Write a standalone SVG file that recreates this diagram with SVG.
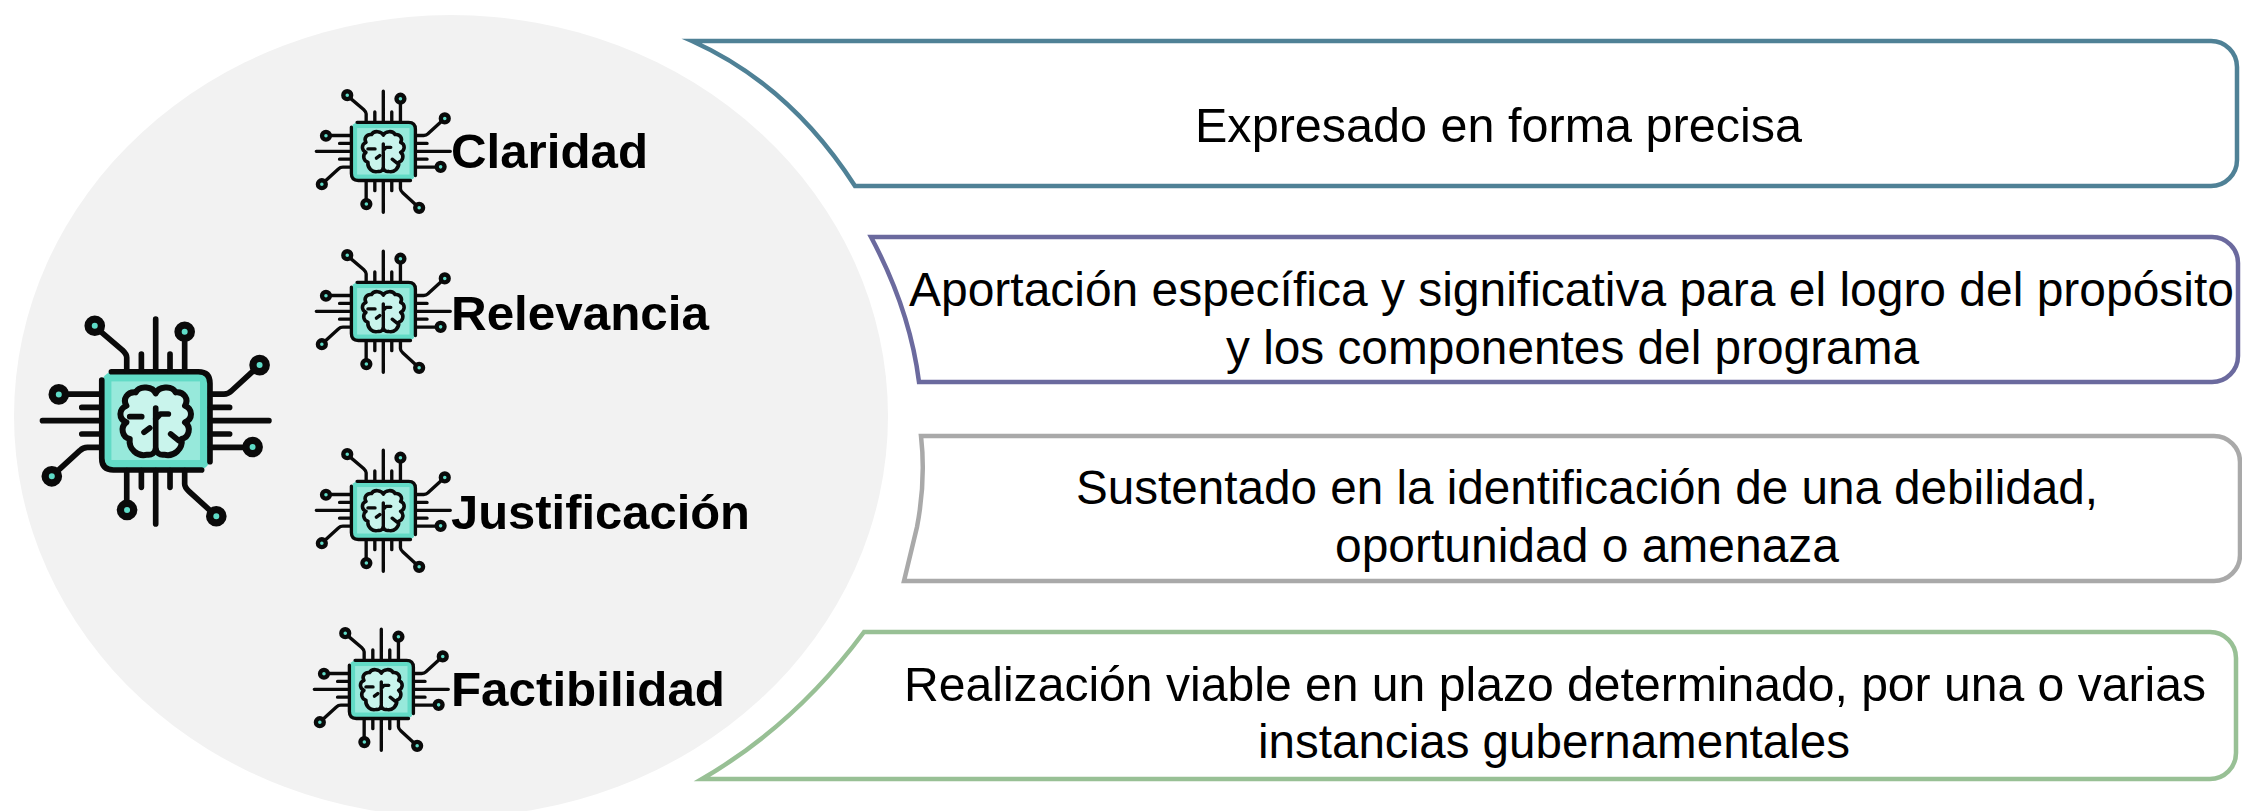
<svg xmlns="http://www.w3.org/2000/svg" width="2242" height="811" viewBox="0 0 2242 811">
<style>
text{font-family:"Liberation Sans",Arial,sans-serif;fill:#000}
.d{font-size:48px}
.l{font-size:49px;font-weight:bold}
.b{fill:#fff;stroke-width:4.5;stroke-linejoin:miter;stroke-miterlimit:12}
.k{fill:none;stroke:#0a0a0a;stroke-width:17;stroke-linecap:round;stroke-linejoin:round}
.n{fill:#5fdcc8;stroke:#0a0a0a;stroke-width:22}
</style>
<defs>
<g id="chip">
<rect x="-162" y="-147" width="325" height="295" rx="35" fill="#62dbc6"/>
<rect x="-133" y="-118" width="266" height="236" fill="#97e9db"/>
<path class="k" d="M-133-147H128Q163-147 163-112V123M138 148H-127Q-162 148-162 113V-122"/>
<path class="k" d="M0-305V-150M-43-200V-150M43-200V-150M87-270V-150M-87-150V-190Q-87-200-100-212L-180-280M165-80H205Q218-80 228-90L310-165M165-40H222M165 40H222M165 0H340M165 80H290M-165-80H-270M-165-40H-222M-165 40H-222M-165 0H-340M-165 80H-205Q-218 80-228 90L-310 165M0 310V150M-43 200V150M43 200V150M-87 150V265M87 150V190Q87 200 100 212L180 285"/>
<circle class="n" cx="-183" cy="-285" r="20"/><circle class="n" cx="87" cy="-267" r="20"/><circle class="n" cx="312" cy="-167" r="20"/><circle class="n" cx="291" cy="79" r="20"/><circle class="n" cx="182" cy="287" r="20"/><circle class="n" cx="-86" cy="268" r="20"/><circle class="n" cx="-312" cy="167" r="20"/><circle class="n" cx="-291" cy="-79" r="20"/>
<path d="M0-82C-8-102-48-108-60-85C-85-88-100-65-88-45C-112-35-112-5-88 5C-108 20-100 50-78 55C-82 85-55 110-25 102C-12 104-2 95 0 85C2 95 12 104 25 102C55 110 82 85 78 55C100 50 108 20 88 5C112-5 112-35 88-45C100-65 85-88 60-85C48-108 8-102 0-82Z" fill="#c9f4ec" stroke="#0a0a0a" stroke-width="18" stroke-linejoin="round"/>
<path class="k" d="M0-38V85M0-5L14-20H38M-78-12H-42M-35 35L-18 22M45 40L70 60"/>
</g>
</defs>
<ellipse id="bg-circle" cx="451" cy="416" rx="437" ry="401" fill="#f2f2f2"/>
<g id="connectors"></g>
<g id="main-icon"><use href="#chip" transform="translate(155.7 420.7) scale(.333)"/></g>
<g id="claridad"><use href="#chip" transform="translate(383.3 151.3) scale(.197)"/><text class="l" x="451" y="168" textLength="197" lengthAdjust="spacingAndGlyphs">Claridad</text></g>
<g id="relevancia"><use href="#chip" transform="translate(383.3 311.3) scale(.197)"/><text class="l" x="451" y="330" textLength="258" lengthAdjust="spacingAndGlyphs">Relevancia</text></g>
<g id="justificacion"><use href="#chip" transform="translate(383.3 510.3) scale(.197)"/><text class="l" x="451" y="529" textLength="299" lengthAdjust="spacingAndGlyphs">Justificación</text></g>
<g id="factibilidad"><use href="#chip" transform="translate(381.3 689.3) scale(.197)"/><text class="l" x="451" y="706" textLength="274" lengthAdjust="spacingAndGlyphs">Factibilidad</text></g>
<g id="box1"><path class="b" stroke="#4f8196" d="M692 41H2211A26 26 0 0 1 2237 67V160A26 26 0 0 1 2211 186H855Q790 85 692 41Z"/><text class="d" x="1195" y="142" textLength="607" lengthAdjust="spacingAndGlyphs">Expresado en forma precisa</text></g>
<g id="box2"><path class="b" stroke="#6b6a9e" d="M871 237H2212A26 26 0 0 1 2238 263V356A26 26 0 0 1 2212 382H919Q910 310 871 237Z"/><text class="d" x="909" y="306" textLength="1325" lengthAdjust="spacingAndGlyphs">Aportación específica y significativa para el logro del propósito</text><text class="d" x="1226" y="364" textLength="693" lengthAdjust="spacingAndGlyphs">y los componentes del programa</text></g>
<g id="box3"><path class="b" stroke="#a9a9a9" d="M921 436H2214A26 26 0 0 1 2240 462V555A26 26 0 0 1 2214 581H904L917 527Q926 480 921 436Z"/><text class="d" x="1076" y="504" textLength="1022" lengthAdjust="spacingAndGlyphs">Sustentado en la identificación de una debilidad,</text><text class="d" x="1335" y="562" textLength="504" lengthAdjust="spacingAndGlyphs">oportunidad o amenaza</text></g>
<g id="box4"><path class="b" stroke="#98c095" d="M864 632H2210A26 26 0 0 1 2236 658V753A26 26 0 0 1 2210 779H702Q795 725 864 632Z"/><text class="d" x="904" y="701" textLength="1302" lengthAdjust="spacingAndGlyphs">Realización viable en un plazo determinado, por una o varias</text><text class="d" x="1258" y="758" textLength="592" lengthAdjust="spacingAndGlyphs">instancias gubernamentales</text></g>
</svg>
